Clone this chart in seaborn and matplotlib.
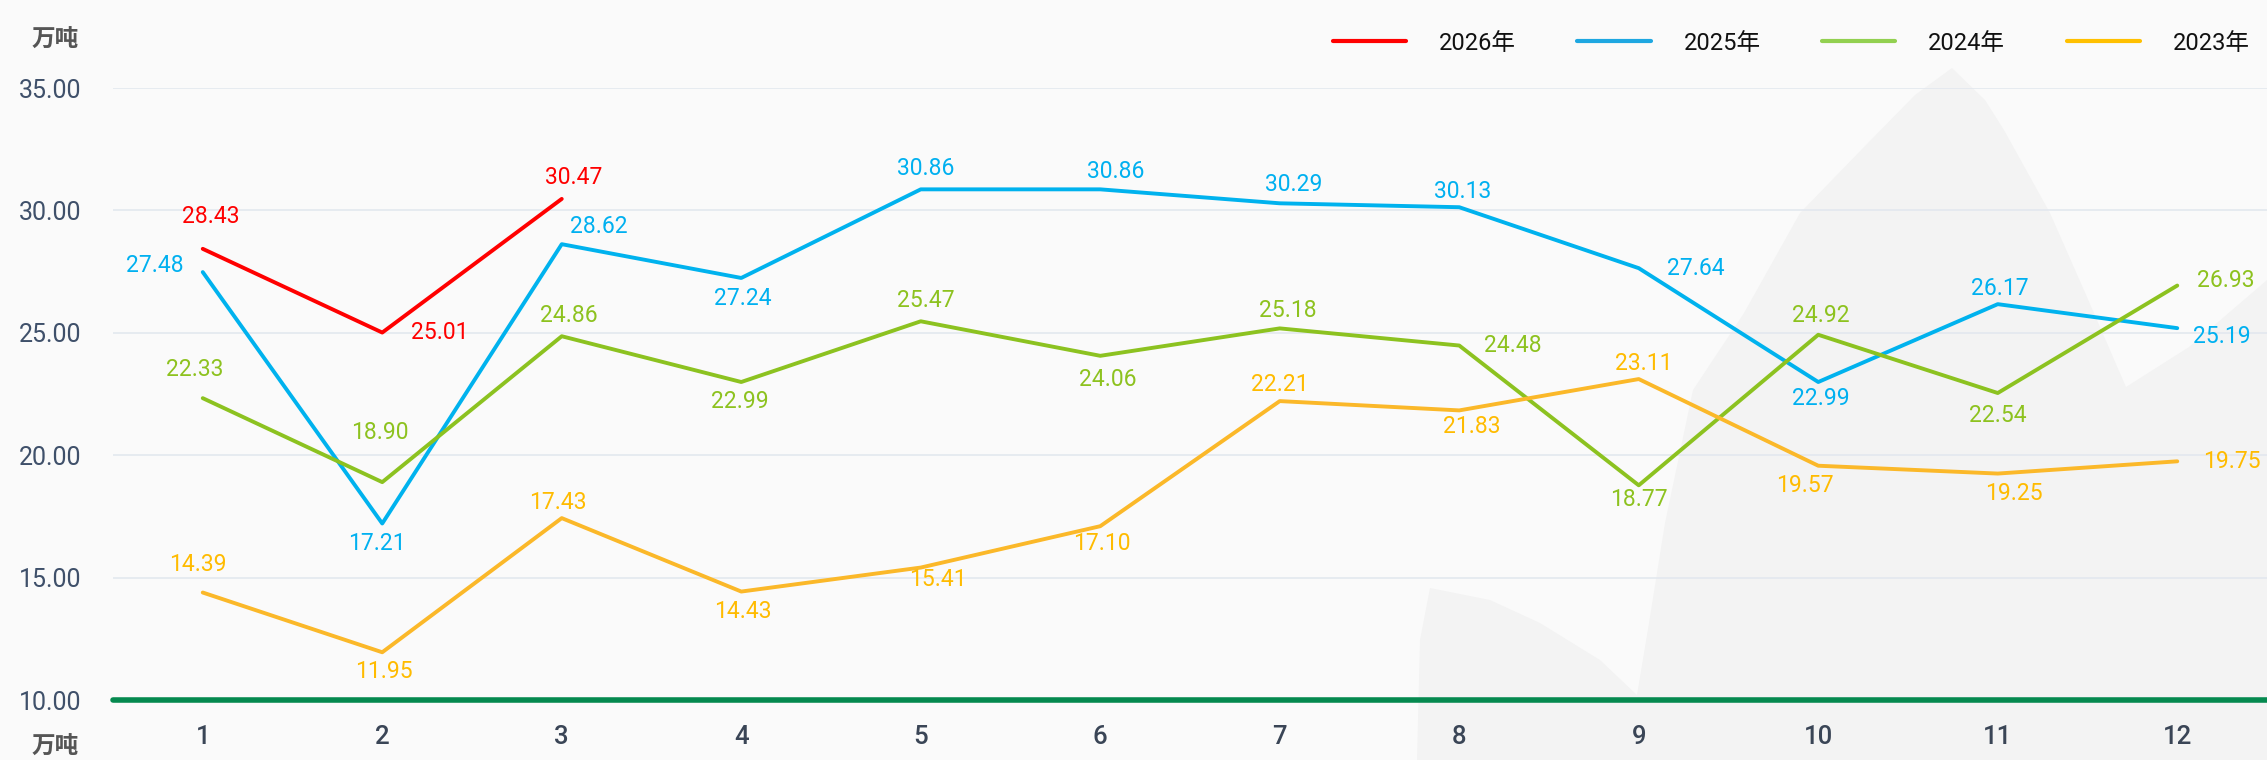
import numpy as np
import pandas as pd
import seaborn as sns
import matplotlib.pyplot as plt
from matplotlib.patches import Polygon
from matplotlib.lines import Line2D

months = list(range(1, 13))
years = ['2026年', '2025年', '2024年', '2023年']
y2026 = [28.43, 25.01, 30.47]
y2025 = [27.48, 17.21, 28.62, 27.24, 30.86, 30.86, 30.29, 30.13, 27.64, 22.99, 26.17, 25.19]
y2024 = [22.33, 18.90, 24.86, 22.99, 25.47, 24.06, 25.18, 24.48, 18.77, 24.92, 22.54, 26.93]
y2023 = [14.39, 11.95, 17.43, 14.43, 15.41, 17.10, 22.21, 21.83, 23.11, 19.57, 19.25, 19.75]
yticks = [10, 15, 20, 25, 30, 35]
unit = '万吨'

line_colors = {'2026年': '#ff0000', '2025年': '#00b2ee', '2024年': '#8cc220', '2023年': '#fbb829'}
text_colors = {'2026年': '#ff0000', '2025年': '#00b0f0', '2024年': '#8dc21f', '2023年': '#ffbb00'}
legend_colors = {'2026年': '#ff0000', '2025年': '#1ea7e1', '2024年': '#92d050', '2023年': '#ffc000'}

# label offsets in pixels (dx right, dy down) per point
label_off = {
    '2026年': [(8, -32), (57, 0), (12, -21)],
    '2025年': [(-48, -7), (-5, 20), (37, -18), (2, 21), (5, -21), (15, -18),
              (14, -19), (3, -16), (57, 0), (3, 16), (2, -16), (45, 8)],
    '2024年': [(-8, -29), (-2, -50), (7, -21), (-1, 19), (5, -21), (7, 24),
              (8, -18), (54, 0), (0, 14), (3, -19), (0, 22), (48, -5)],
    '2023年': [(-5, -28), (2, 19), (-4, -16), (2, 20), (17, 12), (2, 17),
              (0, -17), (12, 16), (5, -16), (-13, 20), (16, 20), (55, 0)],
}

series = {'2026年': y2026, '2025年': y2025, '2024年': y2024, '2023年': y2023}
rows = []
for yr in years:
    for m, v in zip(months, series[yr]):
        rows.append({'month': m, 'value': v, 'year': yr})
df = pd.DataFrame(rows)

sns.set_theme(style='white')
plt.rcParams['font.family'] = ['Roboto', 'Noto Sans CJK SC', 'DejaVu Sans']

W, H = 2267, 760
fig = plt.figure(figsize=(W / 100, H / 100), dpi=100, facecolor='#fafafa')

# faint watermark leaf shapes behind the chart (pixel coords from top-left)
leaf = [(1417, 760), (1420, 640), (1430, 588), (1490, 600), (1540, 623), (1600, 660),
        (1637, 695), (1649, 623), (1665, 523), (1693, 390), (1744, 313), (1800, 213),
        (1864, 147), (1915, 95), (1952, 68), (1985, 100), (2004, 130), (2050, 213),
        (2087, 297), (2126, 387), (2189, 347), (2267, 280), (2267, 760)]
wm = Polygon([(x / W, 1 - y / H) for x, y in leaf], closed=True,
             transform=fig.transFigure, facecolor='#f3f3f3', edgecolor='none', zorder=-5)
fig.patches.append(wm)

ax = fig.add_axes([113 / W, 60 / H, 2154 / W, 612 / H])
ax.set_zorder(1)
ax.patch.set_visible(False)

sns.lineplot(data=df, x='month', y='value', hue='year', hue_order=years,
             palette=line_colors, linewidth=2.8, ax=ax, legend=False, zorder=3)

for yr in years:
    for m, v, (dx, dy) in zip(months, series[yr], label_off[yr]):
        ax.annotate(f'{v:.2f}', (m, v), xytext=(dx, -dy), textcoords='offset pixels',
                    ha='center', va='center', fontsize=16.5, color=text_colors[yr],
                    annotation_clip=False, zorder=4)

ax.set_xlim(0.5, 12.5)
ax.set_ylim(10, 35)
ax.set_yticks(yticks)
ax.set_yticklabels([f'{t:.2f}' for t in yticks])
ax.set_xticks(months)
ax.set_xticks(np.arange(0.5, 13, 1), minor=True)
ax.set_xlabel('')
ax.set_ylabel('')
for s in ax.spines.values():
    s.set_visible(False)
ax.grid(axis='y', color='#e3e8ef', linewidth=1.2)
ax.axhline(10, color='#05894f', linewidth=4, zorder=5, clip_on=False)

ax.tick_params(axis='y', length=0, pad=23, labelsize=18, labelcolor='#3f506a')
ax.tick_params(axis='x', which='major', length=0, pad=18, labelsize=18.5, labelcolor='#3a4556')
ax.tick_params(axis='x', which='minor', length=6, width=1.2, color='#dde3ea', direction='out')
for lab in ax.get_xticklabels():
    lab.set_fontweight('medium')

fig.text(55 / W, 1 - 40 / H, unit, ha='center', va='center', fontsize=17,
         fontweight='bold', color='#555555', family=['Noto Sans CJK SC', 'DejaVu Sans'])
fig.text(55 / W, 1 - 747 / H, unit, ha='center', va='center', fontsize=17,
         fontweight='bold', color='#555555', family=['Noto Sans CJK SC', 'DejaVu Sans'])

handles = [Line2D([0], [0], color=legend_colors[yr], linewidth=3) for yr in years]
fig.legend(handles, years, loc='center right', bbox_to_anchor=(2250 / W, 1 - 43 / H),
           ncol=4, frameon=False, fontsize=17, handlelength=3.1, handletextpad=1.4,
           columnspacing=2.6, borderpad=0, borderaxespad=0, labelcolor='#111111')

fig.savefig('out.png', dpi=100, facecolor=fig.get_facecolor())
